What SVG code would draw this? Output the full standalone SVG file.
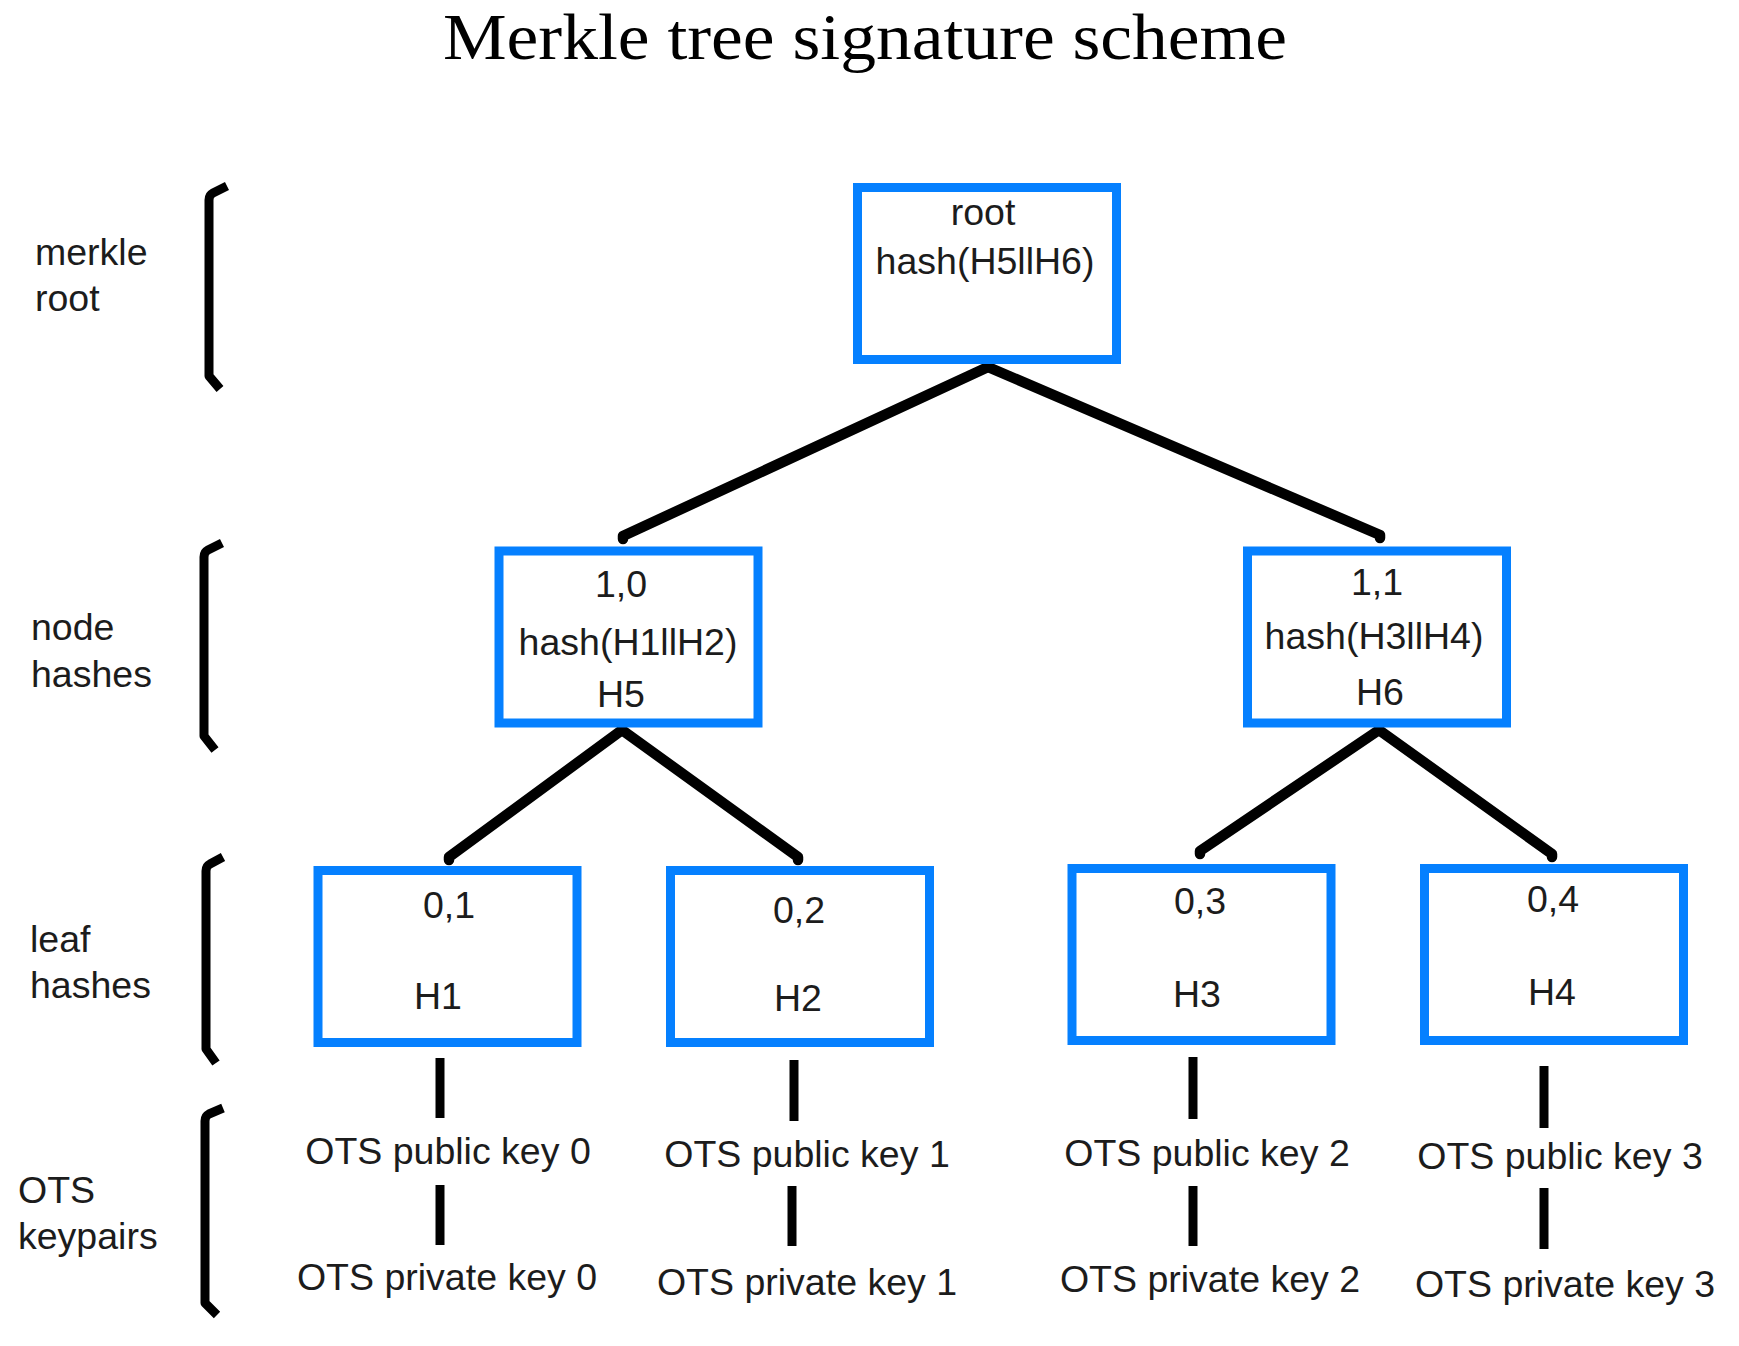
<svg xmlns="http://www.w3.org/2000/svg" width="1739" height="1346" viewBox="0 0 1739 1346">
<style>
.box{fill:#ffffff;stroke:#0580ff;stroke-width:9}
.t{font-family:"Liberation Sans",Arial,Helvetica,sans-serif;font-size:37.5px;fill:#1c1c1c}
.c{text-anchor:middle}
.edge{fill:none;stroke:#000;stroke-width:10.5;stroke-linecap:round;stroke-linejoin:round}
.tick{fill:none;stroke:#000;stroke-width:9;stroke-linecap:butt}
.br{fill:none;stroke:#000;stroke-width:9;stroke-linecap:butt;stroke-linejoin:round}
.title{font-family:"Liberation Serif","Times New Roman",serif;font-size:66px;fill:#000;text-anchor:middle}
</style>
<rect width="1739" height="1346" fill="#ffffff"/>
<text class="title" x="865" y="59" textLength="844" lengthAdjust="spacingAndGlyphs">Merkle tree signature scheme</text>

<g id="level-labels">
<g id="label-merkle-root">
<path class="br" d="M227 186 L213 193 Q209 195 209 200 L209 376 L220 389"/>
<text class="t" x="35" y="265">merkle</text>
<text class="t" x="35" y="311">root</text>
</g>
<g id="label-node-hashes">
<path class="br" d="M222 543 L208 550 Q204 552 204 557 L204 736 L215 750"/>
<text class="t" x="31" y="640">node</text>
<text class="t" x="31" y="687">hashes</text>
</g>
<g id="label-leaf-hashes">
<path class="br" d="M223 857 L210 864 Q206 866 206 871 L206 1049 L216 1063"/>
<text class="t" x="30" y="952">leaf</text>
<text class="t" x="30" y="998">hashes</text>
</g>
<g id="label-ots-keypairs">
<path class="br" d="M223 1108 L209 1114 Q205 1116 205 1121 L205 1303 L217 1315"/>
<text class="t" x="18" y="1203">OTS</text>
<text class="t" x="18" y="1249">keypairs</text>
</g>
</g>

<g id="connectors">
<path class="edge" d="M988 367 L623 536 L623 539"/>
<path class="edge" d="M988 367 L1380 535 L1380 538"/>
<path class="edge" d="M622 730 L449 857 L449 860"/>
<path class="edge" d="M622 730 L798 857 L798 860"/>
<path class="edge" d="M1379 730 L1200 851 L1200 854"/>
<path class="edge" d="M1379 730 L1552 854 L1552 857"/>
<line class="tick" x1="440" y1="1058" x2="440" y2="1118"/>
<line class="tick" x1="440" y1="1185" x2="440" y2="1245"/>
<line class="tick" x1="794" y1="1060" x2="794" y2="1121"/>
<line class="tick" x1="792" y1="1186" x2="792" y2="1246"/>
<line class="tick" x1="1193" y1="1057" x2="1193" y2="1119"/>
<line class="tick" x1="1193" y1="1186" x2="1193" y2="1246"/>
<line class="tick" x1="1544" y1="1066" x2="1544" y2="1128"/>
<line class="tick" x1="1544" y1="1188" x2="1544" y2="1249"/>
</g>

<g id="node-root">
<rect class="box" x="857.5" y="187.5" width="259" height="172"/>
<text class="t c" x="983" y="225">root</text>
<text class="t c" x="985" y="274">hash(H5llH6)</text>
</g>
<g id="node-1-0">
<rect class="box" x="499" y="551" width="259" height="172"/>
<text class="t c" x="621" y="597">1,0</text>
<text class="t c" x="628" y="655">hash(H1llH2)</text>
<text class="t c" x="621" y="707">H5</text>
</g>
<g id="node-1-1">
<rect class="box" x="1247.5" y="551" width="259" height="172"/>
<text class="t c" x="1377" y="595">1,1</text>
<text class="t c" x="1374" y="649">hash(H3llH4)</text>
<text class="t c" x="1380" y="705">H6</text>
</g>
<g id="leaf-0-1">
<rect class="box" x="318" y="870.5" width="259" height="172"/>
<text class="t c" x="449" y="918">0,1</text>
<text class="t c" x="438" y="1009">H1</text>
</g>
<g id="leaf-0-2">
<rect class="box" x="670.5" y="870.5" width="259" height="172"/>
<text class="t c" x="799" y="923">0,2</text>
<text class="t c" x="798" y="1011">H2</text>
</g>
<g id="leaf-0-3">
<rect class="box" x="1072" y="868.5" width="259" height="172"/>
<text class="t c" x="1200" y="914">0,3</text>
<text class="t c" x="1197" y="1007">H3</text>
</g>
<g id="leaf-0-4">
<rect class="box" x="1424.5" y="868.5" width="259" height="172"/>
<text class="t c" x="1553" y="912">0,4</text>
<text class="t c" x="1552" y="1005">H4</text>
</g>

<g id="ots-0">
<text class="t c" x="448" y="1164">OTS public key 0</text>
<text class="t c" x="447" y="1290">OTS private key 0</text>
</g>
<g id="ots-1">
<text class="t c" x="807" y="1167">OTS public key 1</text>
<text class="t c" x="807" y="1295">OTS private key 1</text>
</g>
<g id="ots-2">
<text class="t c" x="1207" y="1166">OTS public key 2</text>
<text class="t c" x="1210" y="1292">OTS private key 2</text>
</g>
<g id="ots-3">
<text class="t c" x="1560" y="1169">OTS public key 3</text>
<text class="t c" x="1565" y="1297">OTS private key 3</text>
</g>
</svg>
